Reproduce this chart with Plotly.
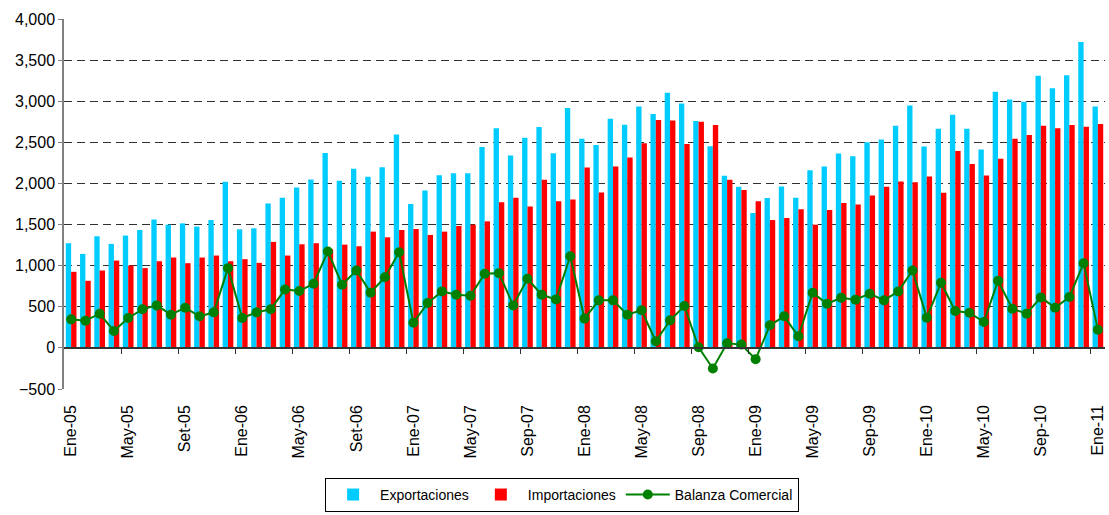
import plotly.graph_objects as go

months = [
    "Ene-05", "Feb-05", "Mar-05", "Abr-05", "May-05", "Jun-05", "Jul-05", "Ago-05", "Set-05", "Oct-05", "Nov-05", "Dic-05",
    "Ene-06", "Feb-06", "Mar-06", "Abr-06", "May-06", "Jun-06", "Jul-06", "Ago-06", "Set-06", "Oct-06", "Nov-06", "Dic-06",
    "Ene-07", "Feb-07", "Mar-07", "Abr-07", "May-07", "Jun-07", "Jul-07", "Ago-07", "Sep-07", "Oct-07", "Nov-07", "Dic-07",
    "Ene-08", "Feb-08", "Mar-08", "Abr-08", "May-08", "Jun-08", "Jul-08", "Ago-08", "Sep-08", "Oct-08", "Nov-08", "Dic-08",
    "Ene-09", "Feb-09", "Mar-09", "Abr-09", "May-09", "Jun-09", "Jul-09", "Ago-09", "Sep-09", "Oct-09", "Nov-09", "Dic-09",
    "Ene-10", "Feb-10", "Mar-10", "Abr-10", "May-10", "Jun-10", "Jul-10", "Ago-10", "Sep-10", "Oct-10", "Nov-10", "Dic-10",
    "Ene-11",
]

exportaciones = [
    1273, 1143, 1357, 1265, 1366, 1434, 1563, 1499, 1515, 1475, 1555, 2020,
    1442, 1454, 1757, 1826, 1951, 2048, 2371, 2032, 2178, 2081, 2198, 2594,
    1749, 1915, 2101, 2125, 2125, 2444, 2670, 2339, 2557, 2687, 2367, 2917,
    2545, 2468, 2788, 2715, 2937, 2844, 3103, 2973, 2759, 2452, 2095, 1959,
    1640, 1822, 1963, 1826, 2161, 2206, 2363, 2331, 2501, 2533, 2703, 2949,
    2448, 2666, 2836, 2666, 2412, 3115, 3022, 2994, 3309, 3159, 3317, 3721,
    2937,
]

importaciones = [
    925, 816, 941, 1062, 1002, 970, 1054, 1099, 1030, 1099, 1123, 1054,
    1079, 1034, 1289, 1123, 1260, 1273, 1200, 1256, 1236, 1414, 1345, 1434,
    1446, 1374, 1414, 1483, 1499, 1539, 1770, 1826, 1721, 2044, 1782, 1806,
    2194, 1891, 2206, 2315, 2489, 2771, 2767, 2481, 2751, 2711, 2044, 1919,
    1782, 1555, 1580, 1685, 1499, 1677, 1761, 1745, 1854, 1959, 2024, 2016,
    2085, 1887, 2396, 2238, 2097, 2299, 2545, 2590, 2703, 2670, 2711, 2691,
    2723,
]

balanza = [
    347, 331, 416, 206, 364, 469, 517, 404, 489, 384, 432, 970,
    364, 432, 469, 711, 691, 780, 1172, 768, 941, 672, 860, 1164,
    307, 545, 687, 646, 634, 901, 909, 517, 840, 646, 590, 1115,
    356, 578, 578, 404, 457, 81, 335, 509, 8, -250, 55, 40,
    -137, 275, 384, 141, 671, 537, 610, 586, 659, 578, 687, 941,
    368, 792, 448, 428, 315, 816, 477, 416, 614, 489, 618, 1030,
    222,
]

tick_labels = months[::4]
boundary_ticks = [i - 0.5 for i in range(4, len(months), 4)]

FONT = "Liberation Sans, Arial, sans-serif"

fig = go.Figure()
fig.add_trace(go.Bar(x=months, y=exportaciones, name="Exportaciones",
                     marker=dict(color="#00CCFF", line=dict(width=0))))
fig.add_trace(go.Bar(x=months, y=importaciones, name="Importaciones",
                     marker=dict(color="#FF0000", line=dict(width=0))))
fig.add_trace(go.Scatter(x=months, y=balanza, name="Balanza Comercial", mode="lines+markers",
                         line=dict(color="#008000", width=2),
                         marker=dict(color="#008000", size=10)))
# helper trace so the category-boundary tick marks on the zero line are drawn
fig.add_trace(go.Scatter(x=[0], y=[None], xaxis="x2", showlegend=False, hoverinfo="skip"))

fig.update_layout(
    width=1109, height=515,
    margin=dict(l=64, r=4, t=19, b=125),
    paper_bgcolor="white", plot_bgcolor="white",
    font=dict(family=FONT, size=16, color="black"),
    barmode="group", bargap=0.25, bargroupgap=0.0,
    showlegend=True,
    legend=dict(orientation="h", x=0.4785, xanchor="center", y=-0.237, yanchor="top",
                bordercolor="black", borderwidth=1, bgcolor="white",
                font=dict(family=FONT, size=14, color="black"),
                itemwidth=44, tracegroupgap=0, traceorder="normal"),
    xaxis=dict(type="category", range=[-0.5, len(months) - 0.5],
               tickmode="array", tickvals=tick_labels, ticktext=tick_labels,
               tickangle=-90, ticks="", showgrid=False, showline=False, zeroline=False,
               ticklabelstandoff=12,
               tickfont=dict(family=FONT, size=16, color="black")),
    xaxis2=dict(overlaying="x", anchor="free", position=500 / 4500,
                range=[-0.5, len(months) - 0.5], type="linear",
                tickmode="array", tickvals=boundary_ticks, showticklabels=False,
                ticks="outside", ticklen=5, tickcolor="#333333", tickwidth=1,
                showline=True, linecolor="#333333", linewidth=1.5,
                showgrid=False, zeroline=False),
    yaxis=dict(range=[-500, 4000], tickmode="array",
               tickvals=list(range(-500, 4001, 500)),
               tickformat=",d",
               showgrid=True, gridcolor="#303030", griddash="8px,5px", gridwidth=1,
               zeroline=False,
               showline=True, linecolor="#808080", linewidth=1.5,
               ticks="outside", ticklen=4, tickcolor="#808080",
               tickfont=dict(family=FONT, size=16, color="black")),
)

fig.write_html("out.html", config={"displayModeBar": False},
               post_script="document.body.style.margin='0';")
